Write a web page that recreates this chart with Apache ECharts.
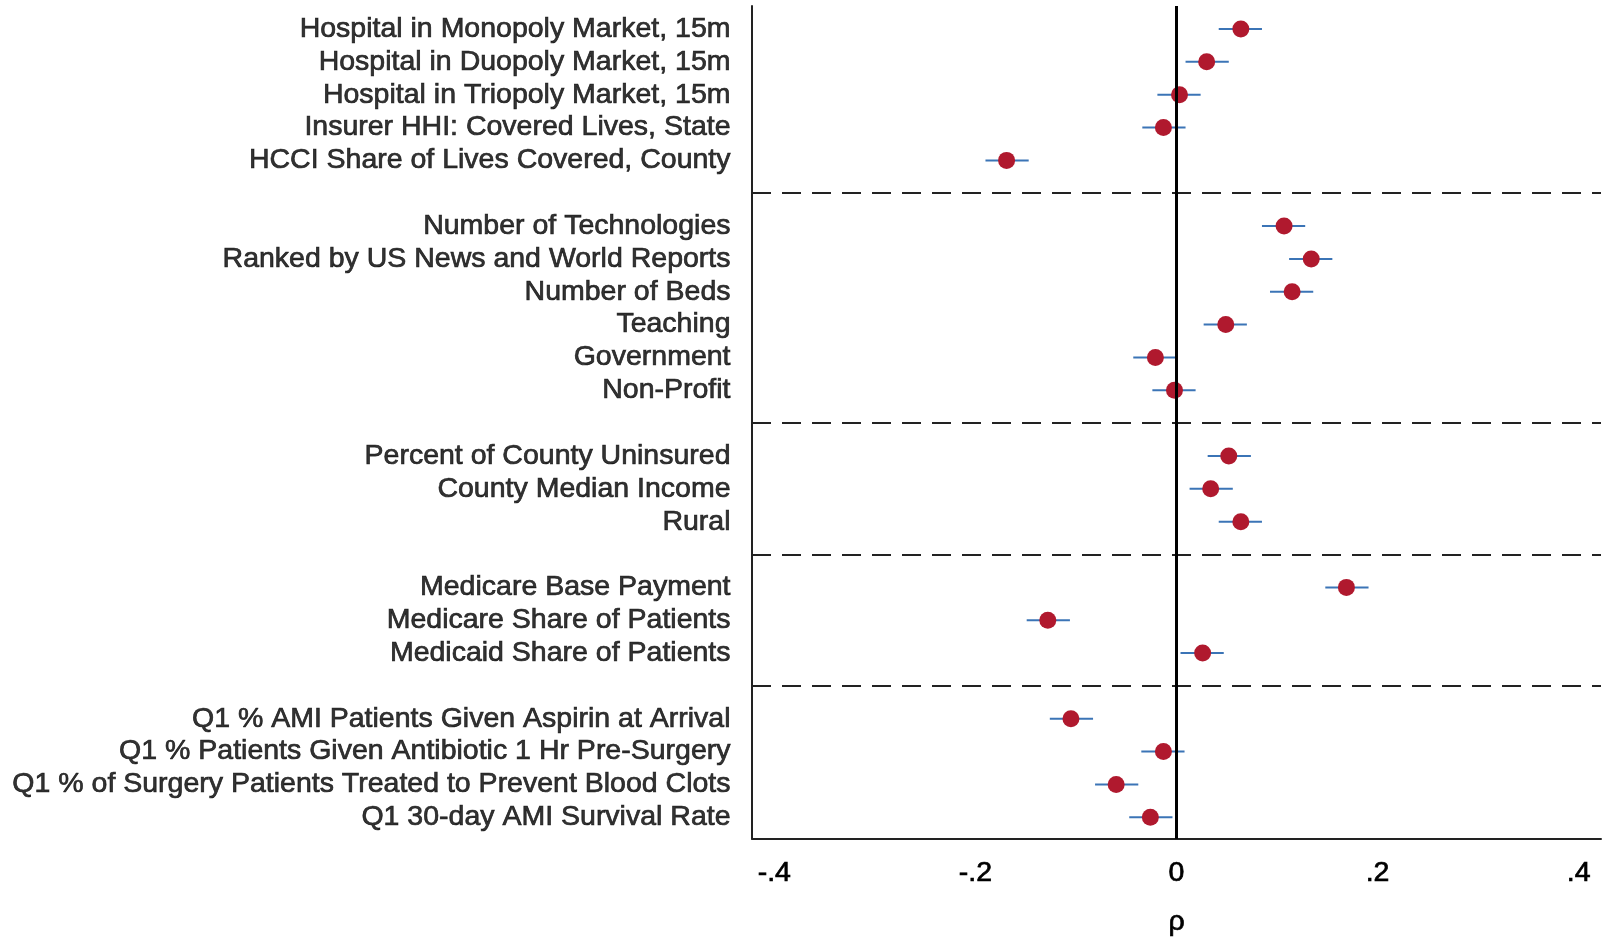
<!DOCTYPE html>
<html>
<head>
<meta charset="utf-8">
<script src="https://cdn.jsdelivr.net/npm/echarts@6/dist/echarts.min.js"></script>
<style>
  html, body { margin: 0; padding: 0; background: #fff; }
  #chart { width: 1604px; height: 942px; }
</style>
</head>
<body>
<div id="chart"></div>
<script>
  // row labels, top to bottom
  var labels = [
    'Hospital in Monopoly Market, 15m',
    'Hospital in Duopoly Market, 15m',
    'Hospital in Triopoly Market, 15m',
    'Insurer HHI: Covered Lives, State',
    'HCCI Share of Lives Covered, County',
    'Number of Technologies',
    'Ranked by US News and World Reports',
    'Number of Beds',
    'Teaching',
    'Government',
    'Non-Profit',
    'Percent of County Uninsured',
    'County Median Income',
    'Rural',
    'Medicare Base Payment',
    'Medicare Share of Patients',
    'Medicaid Share of Patients',
    'Q1 % AMI Patients Given Aspirin at Arrival',
    'Q1 % Patients Given Antibiotic 1 Hr Pre-Surgery',
    'Q1 % of Surgery Patients Treated to Prevent Blood Clots',
    'Q1 30-day AMI Survival Rate'
  ]
  // row slot of each label (gaps between groups)
  var rowPos = [0, 1, 2, 3, 4, 6, 7, 8, 9, 10, 11, 13, 14, 15, 17, 18, 19, 21, 22, 23, 24]
  var rho = [0.064, 0.030, 0.003, -0.013, -0.169, 0.107, 0.134, 0.115, 0.049, -0.021, -0.002,
    0.052, 0.034, 0.064, 0.169, -0.128, 0.026, -0.105, -0.013, -0.060, -0.026]
  var ciLow = [0.042, 0.009, -0.019, -0.034, -0.190, 0.085, 0.112, 0.093, 0.027, -0.043, -0.024,
    0.031, 0.013, 0.042, 0.148, -0.149, 0.004, -0.126, -0.035, -0.081, -0.047]
  var ciHigh = [0.085, 0.052, 0.024, 0.009, -0.147, 0.128, 0.155, 0.136, 0.070, 0.000, 0.019,
    0.074, 0.056, 0.085, 0.191, -0.106, 0.047, -0.083, 0.008, -0.038, -0.004]
  var groupBreaks = [5, 12, 16, 20]
  var xTickValues = [-0.4, -0.2, 0, 0.2, 0.4]
  var xTickLabels = ['-.4', '-.2', '0', '.2', '.4']

  var font = "'Liberation Sans', Arial, sans-serif"
  var textStyle = {
    fontSize: 28.5,
    color: '#000',
    fontFamily: font,
    textBorderColor: '#000',
    textBorderWidth: 0.7
  }

  var chart = echarts.init(document.getElementById('chart'))
  var option = {
    backgroundColor: '#fff',
    animation: false,
    grid: {
      left: 752,
      right: 0,
      top: 6,
      bottom: 100
    },
    xAxis: {
      type: 'value',
      min: -0.4222,
      max: 0.4222,
      name: 'ρ',
      nameLocation: 'middle',
      nameGap: 69,
      nameTextStyle: textStyle,
      axisLine: { show: true, onZero: false, lineStyle: { color: '#222', width: 2 } },
      axisTick: { show: false },
      splitLine: { show: false },
      axisLabel: Object.assign({
        margin: 20,
        formatter: function (v) {
          for (var i = 0; i < xTickValues.length; i++) {
            if (Math.abs(xTickValues[i] - v) < 1e-6) return xTickLabels[i]
          }
          return ''
        }
      }, textStyle)
    },
    yAxis: {
      type: 'value',
      inverse: true,
      min: -0.7,
      max: 24.65,
      axisLine: { show: true, onZero: false, lineStyle: { color: '#222', width: 2 } },
      axisTick: { show: false },
      axisLabel: { show: false },
      splitLine: { show: false }
    },
    series: [
      {
        // row labels drawn at the left edge of the plot
        name: 'labels',
        type: 'scatter',
        silent: true,
        symbolSize: 1,
        itemStyle: { color: 'rgba(0,0,0,0)' },
        data: rowPos.map(function (r, i) { return { value: [-0.4222, r], name: labels[i] } }),
        label: Object.assign({
          show: true,
          position: 'left',
          distance: 21,
          formatter: '{b}'
        }, textStyle),
        markLine: {
          silent: true,
          symbol: 'none',
          label: { show: false },
          lineStyle: { color: '#222', width: 2, type: [19, 11] },
          data: groupBreaks.map(function (b) { return { yAxis: b } })
        },
        z: 1
      },
      {
        name: 'ci',
        type: 'custom',
        renderItem: function (params, api) {
          var y = api.value(2)
          var p1 = api.coord([api.value(0), y])
          var p2 = api.coord([api.value(1), y])
          return {
            type: 'line',
            shape: { x1: p1[0], y1: p1[1], x2: p2[0], y2: p2[1] },
            style: { stroke: '#3b74b6', lineWidth: 2 }
          }
        },
        encode: { x: [0, 1], y: 2 },
        data: rowPos.map(function (r, i) { return [ciLow[i], ciHigh[i], r] }),
        markLine: {
          silent: true,
          symbol: 'none',
          label: { show: false },
          lineStyle: { color: '#000', width: 3, type: 'solid' },
          data: [{ xAxis: 0 }]
        },
        z: 3
      },
      {
        name: 'rho',
        type: 'scatter',
        symbol: 'circle',
        symbolSize: 17,
        itemStyle: { color: '#b0192e', opacity: 1 },
        data: rowPos.map(function (r, i) { return [rho[i], r] }),
        z: 4
      }
    ]
  }
  chart.setOption(option)
</script>
</body>
</html>
